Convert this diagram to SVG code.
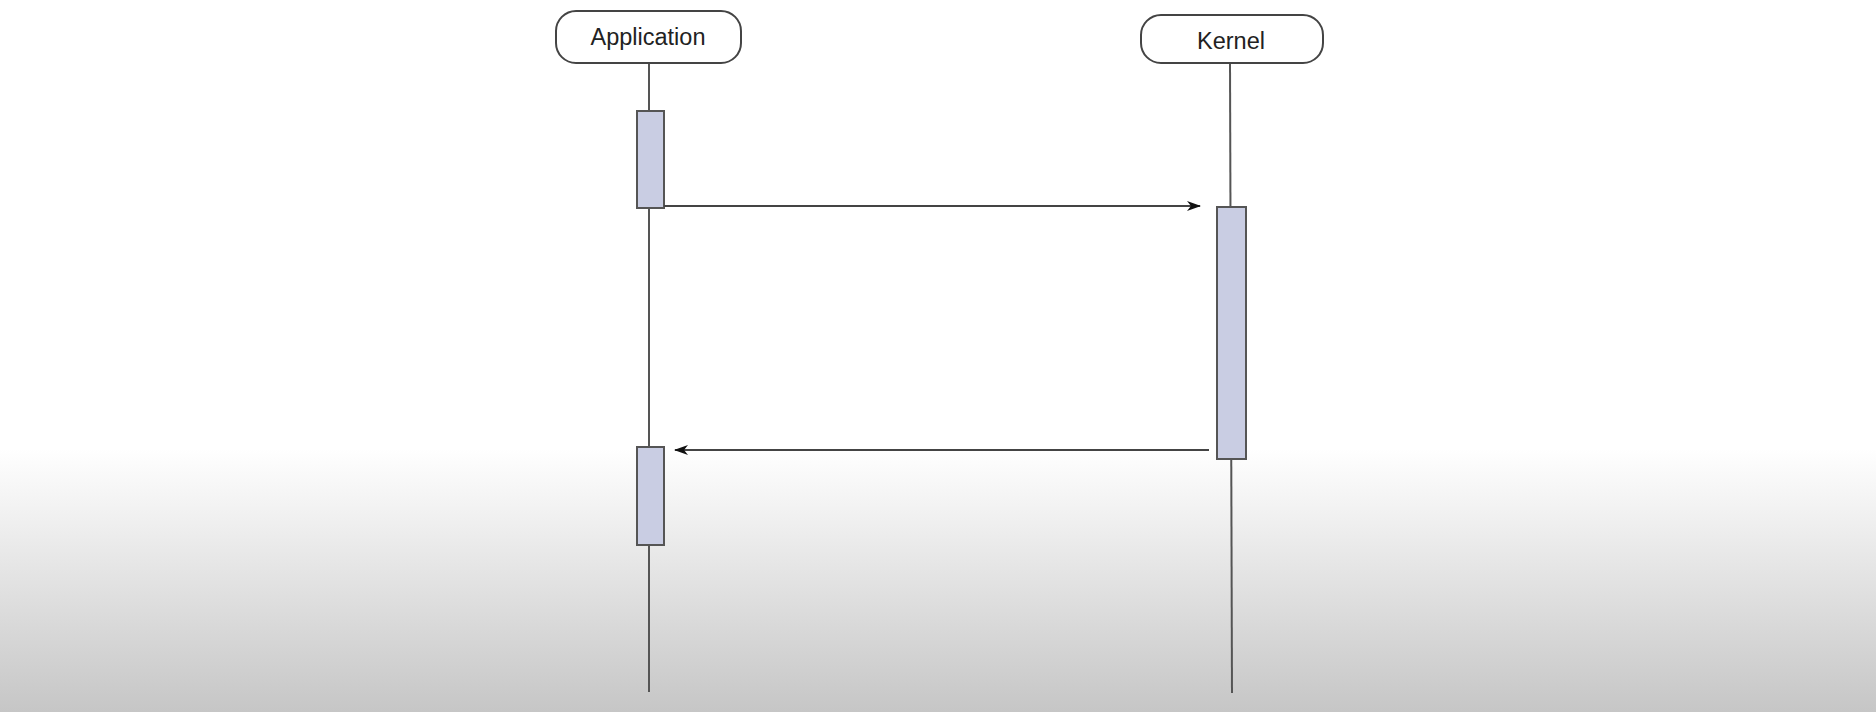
<svg xmlns="http://www.w3.org/2000/svg" width="1876" height="712" viewBox="0 0 1876 712">
<defs>
<linearGradient id="bg" x1="0" y1="0" x2="0" y2="1">
<stop offset="0" stop-color="#ffffff"/>
<stop offset="0.63" stop-color="#ffffff"/>
<stop offset="1" stop-color="#c6c6c6"/>
</linearGradient>
<marker id="arr" markerWidth="14" markerHeight="10" refX="13" refY="5" orient="auto" markerUnits="userSpaceOnUse">
<path d="M0,0 L14,5 L0,10 L4,5 Z" fill="#111"/>
</marker>
<style>
.actor{fill:#fff;stroke:#444;stroke-width:2}
.lbl{font-family:"Liberation Sans",Arial,sans-serif;font-size:23.5px;fill:#222;text-anchor:middle}
.life{stroke:#555;stroke-width:2;fill:none}
.act{fill:#c9cde3;stroke:#555;stroke-width:2}
.msg{stroke:#444;stroke-width:2;fill:none}
</style>
</defs>
<rect x="0" y="0" width="1876" height="712" fill="url(#bg)"/>
<g id="application">
<line class="life" x1="649" y1="63" x2="649" y2="692"/>
<rect class="actor" x="556" y="11" width="185" height="52" rx="20"/>
<text class="lbl" x="648" y="45">Application</text>
<rect class="act" x="637" y="111" width="27" height="97"/>
<rect class="act" x="637" y="447" width="27" height="98"/>
</g>
<g id="kernel">
<line class="life" x1="1230" y1="63" x2="1232" y2="693"/>
<rect class="actor" x="1141" y="15" width="182" height="48" rx="20"/>
<text class="lbl" x="1231" y="49">Kernel</text>
<rect class="act" x="1217" y="207" width="29" height="252"/>
</g>
<g id="connectors">
<line class="msg" x1="664" y1="206" x2="1200" y2="206" marker-end="url(#arr)"/>
<line class="msg" x1="1209" y1="450" x2="675" y2="450" marker-end="url(#arr)"/>
</g>
</svg>
